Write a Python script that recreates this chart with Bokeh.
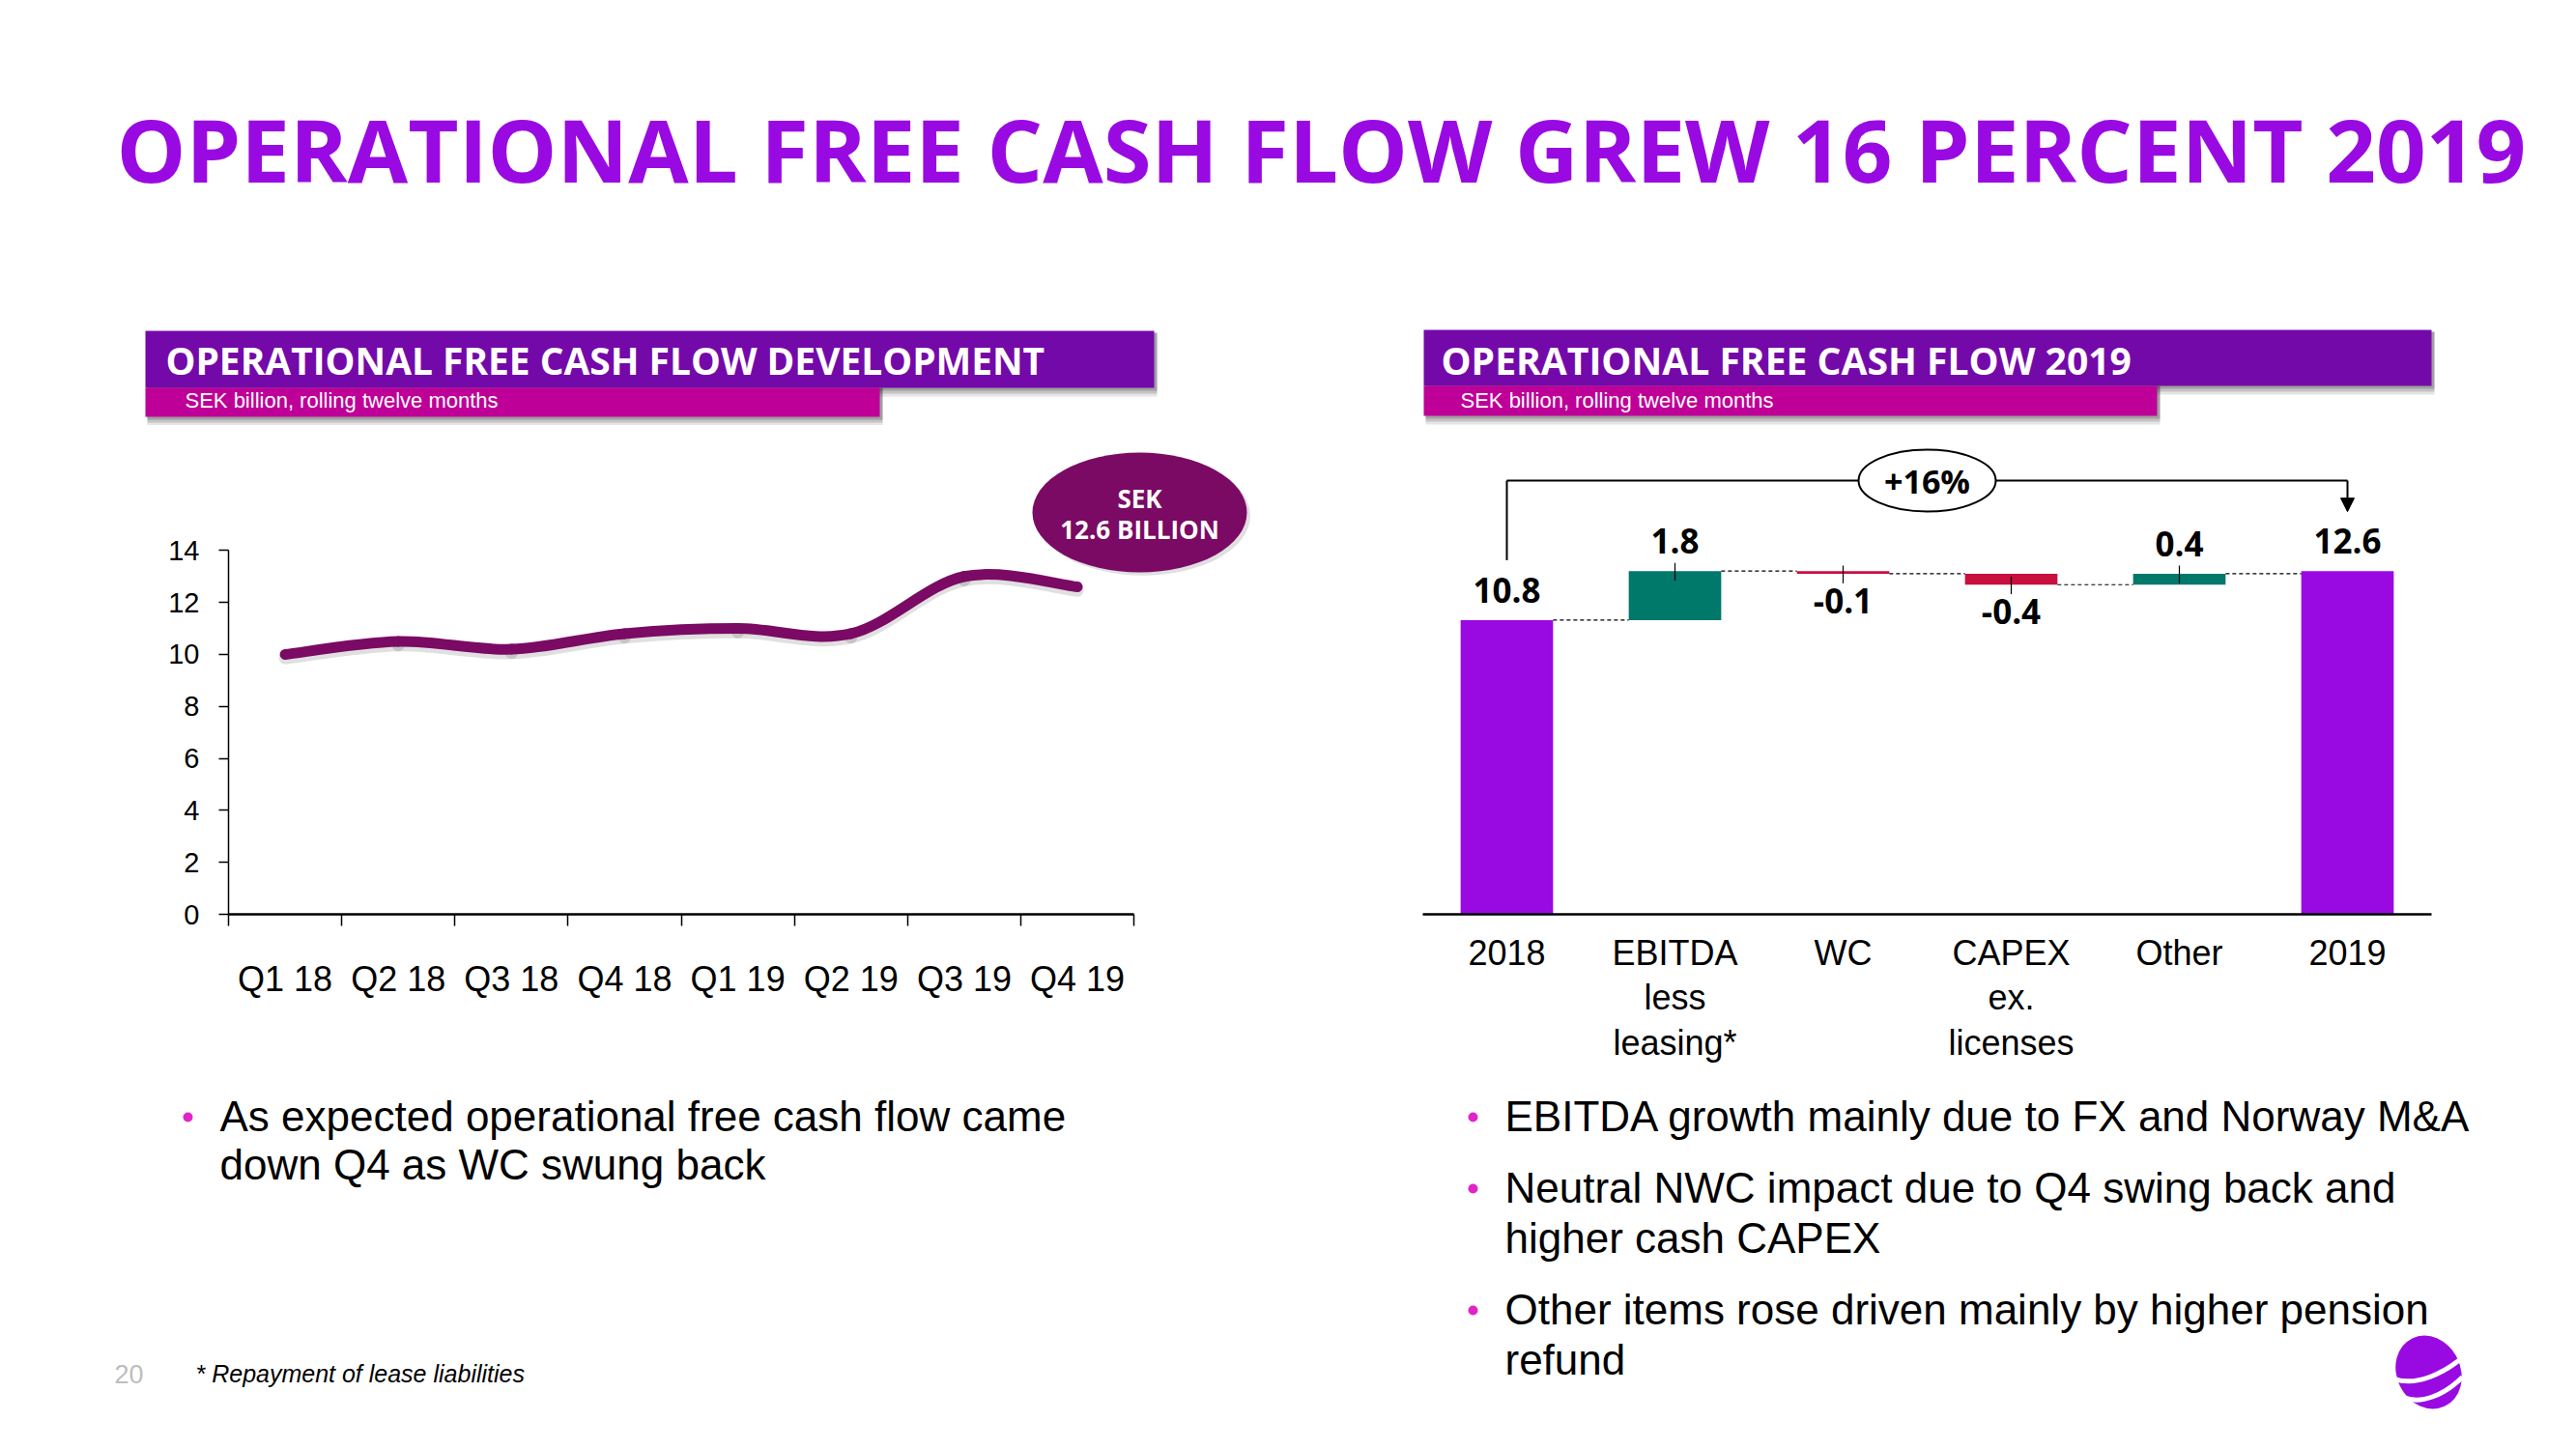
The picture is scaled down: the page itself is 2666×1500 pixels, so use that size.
from bokeh.plotting import figure
from bokeh.models import Range1d, FactorRange, FixedTicker, Label, Arrow, NormalHead
from bokeh.layouts import column, row
from bokeh.embed import file_html
from bokeh.resources import INLINE
from bokeh.core.properties import value

# ---------------- data ----------------
quarters = ["Q1 18", "Q2 18", "Q3 18", "Q4 18", "Q1 19", "Q2 19", "Q3 19", "Q4 19"]
ofcf_rolling = [10.0, 10.5, 10.2, 10.8, 11.0, 10.8, 13.0, 12.6]
left_y_ticks = [0, 2, 4, 6, 8, 10, 12, 14]

wf_categories = ["2018", "EBITDA\nless\nleasing*", "WC", "CAPEX\nex.\nlicenses", "Other", "2019"]
wf_values = [10.8, 1.8, -0.1, -0.4, 0.4, 12.6]
wf_kinds = ["total", "delta", "delta", "delta", "delta", "total"]
wf_labels = ["10.8", "1.8", "-0.1", "-0.4", "0.4", "12.6"]
growth_label = "+16%"

title_text = "OPERATIONAL FREE CASH FLOW GREW 16 PERCENT 2019"
left_header = "OPERATIONAL FREE CASH FLOW DEVELOPMENT"
right_header = "OPERATIONAL FREE CASH FLOW 2019"
sub_header = "SEK billion, rolling twelve months"
bubble_lines = ["SEK", "12.6 BILLION"]
left_bullets = [["As expected operational free cash flow came", "down Q4 as WC swung back"]]
right_bullets = [["EBITDA growth mainly due to FX and Norway M&A"],
                 ["Neutral NWC impact due to Q4 swing back and", "higher cash CAPEX"],
                 ["Other items rose driven mainly by higher pension", "refund"]]
footnote = "* Repayment of lease liabilities"
page_number = "20"

# ---------------- style ----------------
PURPLE = "#990AE3"
HEADER_PURPLE = "#7409A9"
HEADER_MAGENTA = "#BE0098"
LINE_COLOR = "#7A0A64"
GREEN = "#00786A"
RED = "#C8103F"
BULLET = "#E024C8"
BODY_FONT = "Liberation Sans"
HEAD_FONT = "Open Sans"

W_LEFT, W_RIGHT = 1328, 1322
H_TOP, H_CHART, H_BOTTOM = 440, 685, 359


def blank(width, height, xr, yr):
    p = figure(width=width, height=height, x_range=xr, y_range=yr,
               output_backend="svg", toolbar_location=None,
               x_axis_location=None, y_axis_location=None, min_border=0,
               outline_line_color=None, background_fill_color="white",
               border_fill_color="white")
    p.grid.visible = False
    return p


# ---------------- top: title + headers ----------------
top = blank(W_LEFT + W_RIGHT, H_TOP, Range1d(0, W_LEFT + W_RIGHT), Range1d(H_TOP, 0))
top.text(x=[120], y=[153], text=[title_text], text_font=value(HEAD_FONT),
         text_font_style="bold", text_font_size="90.5px", text_color=PURPLE,
         text_baseline="middle", text_align="left")

headers = [
    dict(l=150, r=1194, mr=910, t=342, m=401, b=431, text=left_header, tx=171, fs="38.9px"),
    dict(l=1473, r=2516, mr=2232, t=341, m=399, b=430, text=right_header, tx=1491, fs="39.1px"),
]
for h in headers:
    for k, a in [(9, 0.10), (6, 0.14), (3, 0.18)]:
        top.quad(left=[h["l"] + 2], right=[h["r"] + 3], top=[h["t"] + 2], bottom=[h["m"] + k],
                 fill_color="black", fill_alpha=a, line_color=None)
        top.quad(left=[h["l"] + 2], right=[h["mr"] + 3], top=[h["m"]], bottom=[h["b"] + k],
                 fill_color="black", fill_alpha=a, line_color=None)
    top.quad(left=[h["l"]], right=[h["r"]], top=[h["t"]], bottom=[h["m"]],
             fill_color=HEADER_PURPLE, line_color=None)
    top.quad(left=[h["l"]], right=[h["mr"]], top=[h["m"]], bottom=[h["b"]],
             fill_color=HEADER_MAGENTA, line_color=None)
    top.text(x=[h["tx"]], y=[372], text=[h["text"]], text_font=value(HEAD_FONT),
             text_font_style="bold", text_font_size=h["fs"], text_color="white",
             text_baseline="middle")
    top.text(x=[h["tx"] + 20], y=[414], text=[sub_header], text_font=value(BODY_FONT),
             text_font_size="22px", text_color="white", text_baseline="middle")

# ---------------- left chart: smoothed line ----------------
lc = figure(width=W_LEFT, height=H_CHART, x_range=Range1d(0, 9.1), y_range=Range1d(0, 18.25),
            output_backend="svg", toolbar_location=None,
            min_border_left=236, min_border_right=26, min_border_top=15, min_border_bottom=179,
            outline_line_color=None)
lc.grid.visible = False

xs = [i + 0.5 for i in range(len(quarters))]
n = len(xs)
seg = dict(x0=[], y0=[], x1=[], y1=[], cx0=[], cy0=[], cx1=[], cy1=[])
for i in range(n - 1):
    a = i - 1 if i > 0 else i
    d = i + 2 if i + 2 < n else i + 1
    seg["x0"].append(xs[i]); seg["y0"].append(ofcf_rolling[i])
    seg["x1"].append(xs[i + 1]); seg["y1"].append(ofcf_rolling[i + 1])
    seg["cx0"].append(xs[i] + (xs[i + 1] - xs[a]) / 6)
    seg["cy0"].append(ofcf_rolling[i] + (ofcf_rolling[i + 1] - ofcf_rolling[a]) / 6)
    seg["cx1"].append(xs[i + 1] - (xs[d] - xs[i]) / 6)
    seg["cy1"].append(ofcf_rolling[i + 1] - (ofcf_rolling[d] - ofcf_rolling[i]) / 6)

shadow = {k: (v if not k.startswith(("y", "cy")) else [q - 0.14 for q in v]) for k, v in seg.items()}
lc.bezier(line_color="black", line_alpha=0.12, line_width=13, line_cap="round", **shadow)
lc.bezier(line_color=LINE_COLOR, line_width=11, line_cap="round", **seg)

# bubble
bx, by = 8.05, 15.46
lc.ellipse(x=[bx + 0.03], y=[by - 0.12], width=222, height=124, width_units="screen",
           height_units="screen", fill_color="black", fill_alpha=0.12, line_color=None)
lc.ellipse(x=[bx], y=[by], width=222, height=124, width_units="screen",
           height_units="screen", fill_color=LINE_COLOR, line_color=None)
lc.text(x=[bx, bx], y=[by, by], text=bubble_lines, y_offset=[-15, 17],
        text_font=value(HEAD_FONT), text_font_style="bold", text_font_size="26px",
        text_color="white", text_align="center", text_baseline="middle")

lc.xaxis.ticker = FixedTicker(ticks=xs, minor_ticks=list(range(n + 1)))
lc.xaxis.major_label_overrides = {x: q for x, q in zip(xs, quarters)}
lc.xaxis.bounds = (0, n)
lc.xaxis.axis_line_width = 2.5
lc.xaxis.axis_line_color = "black"
lc.xaxis.major_tick_line_color = None
lc.xaxis.major_tick_out = 0
lc.xaxis.minor_tick_line_color = "black"
lc.xaxis.minor_tick_line_width = 1.5
lc.xaxis.minor_tick_out = 12
lc.xaxis.minor_tick_in = 0
lc.xaxis.major_label_standoff = 34
lc.xaxis.major_label_text_font = BODY_FONT
lc.xaxis.major_label_text_font_size = "36px"
lc.xaxis.major_label_text_color = "black"

lc.yaxis.ticker = FixedTicker(ticks=left_y_ticks, minor_ticks=[])
lc.yaxis.bounds = (0, 14)
lc.yaxis.axis_line_width = 1.5
lc.yaxis.axis_line_color = "black"
lc.yaxis.major_tick_out = 10
lc.yaxis.major_tick_in = 0
lc.yaxis.major_tick_line_width = 1.5
lc.yaxis.major_label_standoff = 20
lc.yaxis.major_label_text_font = BODY_FONT
lc.yaxis.major_label_text_font_size = "29px"
lc.yaxis.major_label_text_color = "black"

# ---------------- right chart: waterfall ----------------
rc = figure(width=W_RIGHT, height=H_CHART, x_range=FactorRange(factors=wf_categories),
            y_range=Range1d(0, 17.41), output_backend="svg", toolbar_location=None,
            y_axis_location=None,
            min_border_left=144, min_border_right=134, min_border_top=15, min_border_bottom=179,
            outline_line_color=None)
rc.grid.visible = False

centers = [i + 0.5 for i in range(len(wf_values))]
bottoms, tops, colors, levels = [], [], [], []
running = 0.0
for v, k in zip(wf_values, wf_kinds):
    if k == "total":
        b, t = 0.0, v
        running = v
        colors.append(PURPLE)
    else:
        b, t = (running, running + v) if v >= 0 else (running + v, running)
        running += v
        colors.append(GREEN if v >= 0 else RED)
    bottoms.append(b); tops.append(t); levels.append(running)

bw = 0.55
rc.vbar(x=centers, bottom=bottoms, top=tops, width=bw, fill_color=colors, line_color=None)

# connectors
rc.segment(x0=[c + bw / 2 for c in centers[:-1]], y0=levels[:-1],
           x1=[c - bw / 2 for c in centers[1:]], y1=levels[:-1],
           line_color="black", line_width=1.2, line_dash="4 3")

# leader marks on delta bars
for c, v, k, b, t in zip(centers, wf_values, wf_kinds, bottoms, tops):
    if k == "delta":
        e = t if v >= 0 else b
        rc.segment(x0=[c], y0=[e - 0.35], x1=[c], y1=[e + 0.3], line_color="black", line_width=1.2)

# value labels
lab_y, lab_off = [], []
for v, k, b, t in zip(wf_values, wf_kinds, bottoms, tops):
    if k == "total" or v >= 0:
        lab_y.append(t); lab_off.append(-31)
    else:
        lab_y.append(b); lab_off.append(28)
rc.text(x=centers, y=lab_y, text=wf_labels, y_offset=lab_off, text_font=value(HEAD_FONT),
        text_font_style="bold", text_font_size="35px", text_color="black",
        text_align="center", text_baseline="middle")

# growth bracket
y_br = max(wf_values) + 3.32
rc.segment(x0=[centers[0]], y0=[wf_values[0] + 2.2], x1=[centers[0]], y1=[y_br],
           line_color="black", line_width=2)
rc.segment(x0=[centers[0]], y0=[y_br], x1=[centers[-1]], y1=[y_br],
           line_color="black", line_width=2)
rc.add_layout(Arrow(end=NormalHead(size=14, fill_color="black", line_color="black"),
                    x_start=centers[-1], y_start=y_br, x_end=centers[-1], y_end=wf_values[-1] + 2.18,
                    line_color="black", line_width=2))
xm = (centers[2] + centers[3]) / 2
rc.ellipse(x=[xm], y=[y_br], width=142, height=64, width_units="screen", height_units="screen",
           fill_color="white", line_color="black", line_width=2)
rc.text(x=[xm], y=[y_br], text=[growth_label], text_font=value(HEAD_FONT),
        text_font_style="bold", text_font_size="34px", text_color="black",
        text_align="center", text_baseline="middle")

rc.xaxis.axis_line_width = 2.5
rc.xaxis.axis_line_color = "black"
rc.xaxis.major_tick_line_color = None
rc.xaxis.minor_tick_line_color = None
rc.xaxis.major_label_standoff = 13
rc.xaxis.major_label_text_font = BODY_FONT
rc.xaxis.major_label_text_font_size = "36px"
rc.xaxis.major_label_text_color = "black"
rc.xaxis.major_label_text_line_height = 1.14
bold_idx = [0, len(wf_categories) - 1]
rc.xaxis.major_label_overrides = {wf_categories[i]: "" for i in bold_idx}
for i in bold_idx:
    rc.add_layout(Label(x=centers[i], y=-1.58, text=wf_categories[i], text_font=BODY_FONT,
                        text_font_style="bold", text_font_size="36px", text_color="black",
                        text_align="center", text_baseline="middle"))

# ---------------- bottom texts ----------------
lb = blank(W_LEFT, H_BOTTOM, Range1d(0, W_LEFT), Range1d(H_TOP + H_CHART + H_BOTTOM, H_TOP + H_CHART))
rb = blank(W_RIGHT, H_BOTTOM, Range1d(W_LEFT, W_LEFT + W_RIGHT),
           Range1d(H_TOP + H_CHART + H_BOTTOM, H_TOP + H_CHART))


def bullets(p, groups, x_dot, x_text, first_center, line_gap, group_gap):
    y = first_center
    for g in groups:
        p.scatter(x=[x_dot], y=[y + 1], size=10, fill_color=BULLET, line_color=None)
        for j, line in enumerate(g):
            p.text(x=[x_text], y=[y + j * line_gap], text=[line], text_font=value(BODY_FONT),
                   text_font_size="44px", text_color="black", text_baseline="middle")
        y += (len(g) - 1) * line_gap + group_gap


bullets(lb, left_bullets, 194, 227, 1155, 50, 74)
bullets(rb, right_bullets, 1524, 1557, 1155, 52, 74)

lb.text(x=[202], y=[1421], text=[footnote], text_font=value(BODY_FONT), text_font_style="italic",
        text_font_size="25px", text_color="black", text_baseline="middle")
lb.text(x=[118], y=[1422], text=[page_number], text_font=value(BODY_FONT),
        text_font_size="27px", text_color="#BDBDBD", text_baseline="middle")

# logo (decorative)
rb.ellipse(x=[2513], y=[1420], width=66, height=78, angle=0.45, fill_color=PURPLE, line_color=None)
rb.bezier(x0=[2478, 2487], y0=[1427, 1446], x1=[2550, 2548], y1=[1403, 1425],
          cx0=[2500, 2505], cy0=[1435, 1454], cx1=[2530, 2530], cy1=[1421, 1443],
          line_color="white", line_width=5)

layout = column(top, row(lc, rc), row(lb, rb))
open("out.html", "w").write(file_html(layout, INLINE))
